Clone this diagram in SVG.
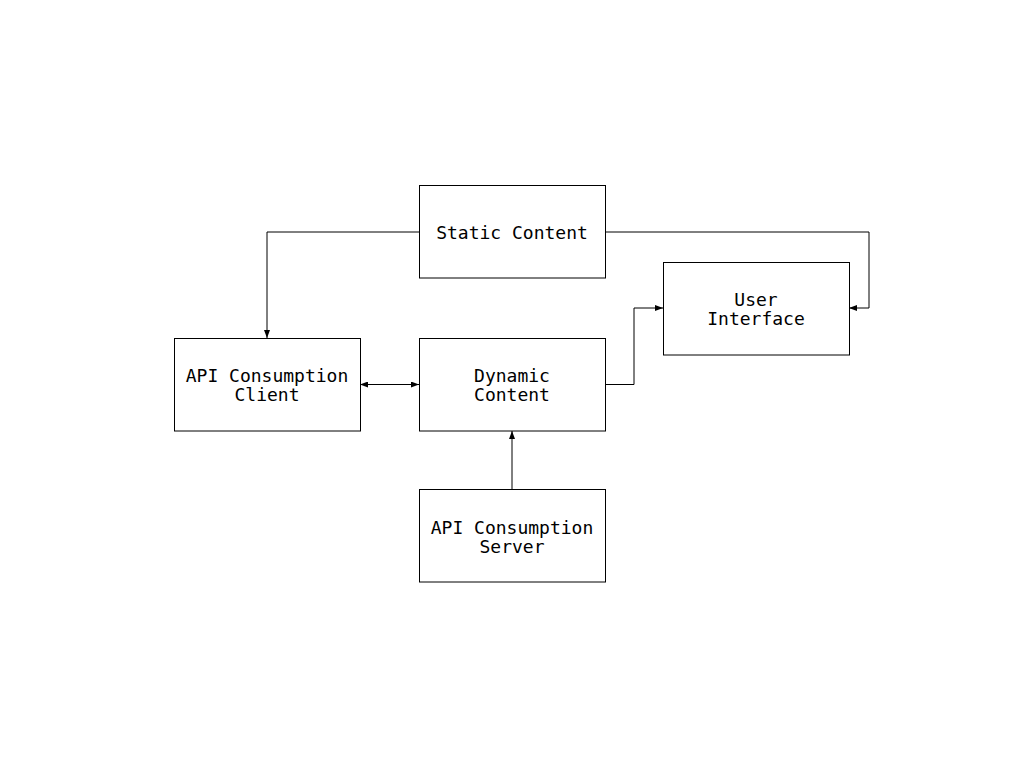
<svg xmlns="http://www.w3.org/2000/svg" width="1024" height="768" viewBox="0 0 1024 768">
<style>
.box{fill:#fff;stroke:#000;stroke-width:1}
.t{font-family:"DejaVu Sans Mono",monospace;font-size:18px;fill:#000;text-anchor:middle;dominant-baseline:central}
.c{fill:none;stroke:#000;stroke-width:1}
</style>
<defs>
<marker id="a" viewBox="0 0 8 6" refX="8" refY="3" markerWidth="8" markerHeight="6" markerUnits="userSpaceOnUse" orient="auto-start-reverse">
<path d="M0,0 L8,3 L0,6 z" fill="#000"/>
</marker>
</defs>
<rect width="1024" height="768" fill="#fff"/>
<g id="connectors">
<path class="c" d="M419,232 H267 V338" marker-end="url(#a)"/>
<path class="c" d="M605,232 H869 V308 H849" marker-end="url(#a)"/>
<path class="c" d="M605,384.5 H634 V308 H663" marker-end="url(#a)"/>
<path class="c" d="M360,384.5 H419" marker-start="url(#a)" marker-end="url(#a)"/>
<path class="c" d="M512,489 V431" marker-end="url(#a)"/>
</g>
<g id="static">
<rect class="box" x="419.5" y="185.5" width="186" height="92.5"/>
<text class="t" x="512" y="232">Static Content</text>
</g>
<g id="ui">
<rect class="box" x="663.5" y="262.5" width="186" height="92.5"/>
<text class="t" x="756" y="299">User</text>
<text class="t" x="756" y="318">Interface</text>
</g>
<g id="client">
<rect class="box" x="174.5" y="338.5" width="186" height="92.5"/>
<text class="t" x="267" y="375">API Consumption</text>
<text class="t" x="267" y="394">Client</text>
</g>
<g id="dynamic">
<rect class="box" x="419.5" y="338.5" width="186" height="92.5"/>
<text class="t" x="512" y="375">Dynamic</text>
<text class="t" x="512" y="394">Content</text>
</g>
<g id="server">
<rect class="box" x="419.5" y="489.5" width="186" height="92.5"/>
<text class="t" x="512" y="527">API Consumption</text>
<text class="t" x="512" y="546">Server</text>
</g>
</svg>
